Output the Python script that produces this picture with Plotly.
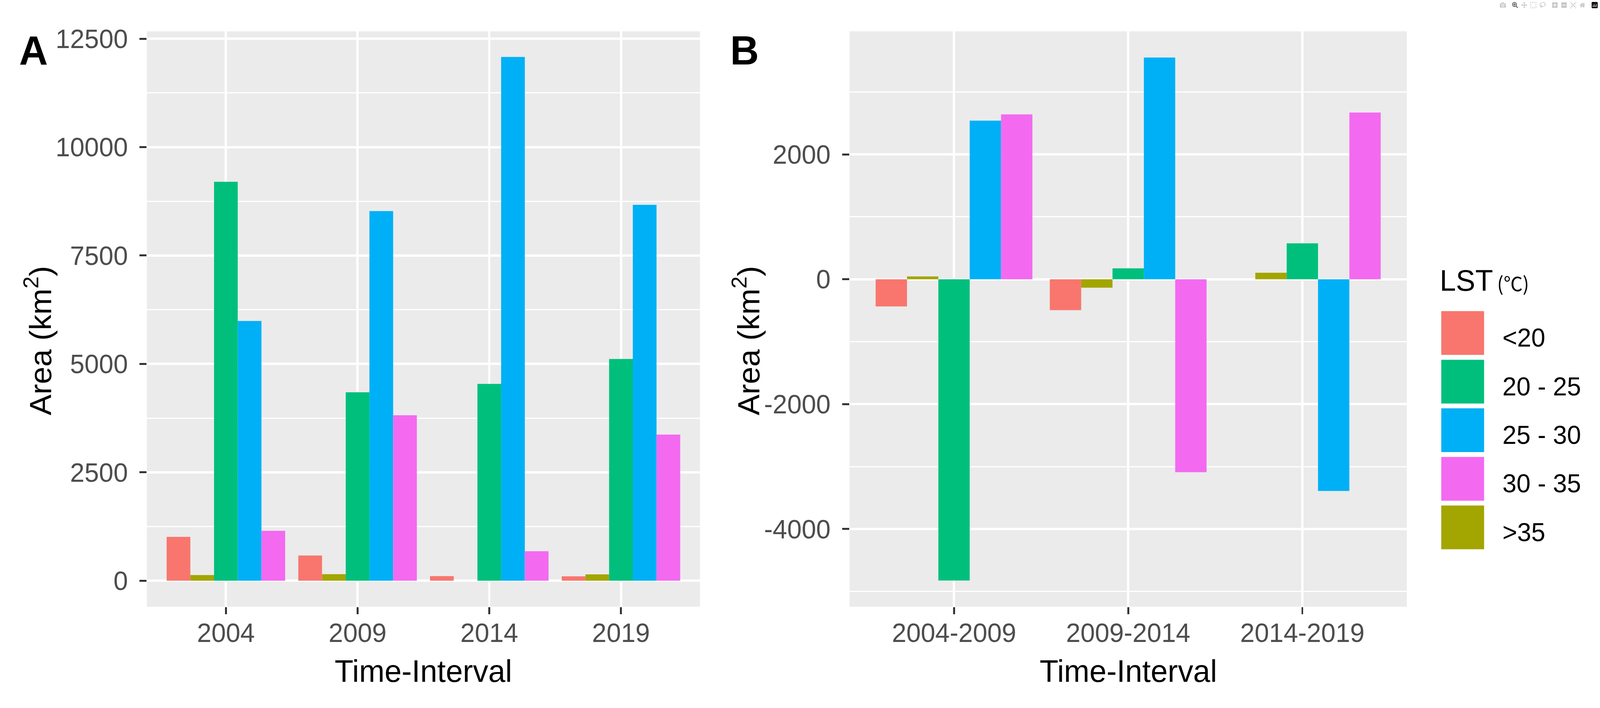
import plotly.graph_objects as go

# ---------------- data ----------------
years = ["2004", "2009", "2014", "2019"]
intervals = ["2004-2009", "2009-2014", "2014-2019"]

# class order used for bars inside each group (ggplot factor order)
bar_classes = ["<20", ">35", "20 - 25", "25 - 30", "30 - 35"]
bar_colors = ["#F8766D", "#A3A500", "#00BF7D", "#00B0F6", "#F36AF0"]
# order shown in the legend
legend_classes = ["<20", "20 - 25", "25 - 30", "30 - 35", ">35"]

# Panel A: area (km2) per year
area_lt20 = [1010, 580, 105, 100]
area_gt35 = [130, 150, 0, 145]
area_20_25 = [9200, 4345, 4540, 5115]
area_25_30 = [5990, 8525, 12080, 8670]
area_30_35 = [1150, 3815, 680, 3370]

# Panel B: change in area (km2) per interval
chg_lt20 = [-435, -495, 0]
chg_gt35 = [45, -135, 105]
chg_20_25 = [-4825, 175, 575]
chg_25_30 = [2540, 3550, -3390]
chg_30_35 = [2640, -3090, 2670]

area_series = [area_lt20, area_gt35, area_20_25, area_25_30, area_30_35]
chg_series = [chg_lt20, chg_gt35, chg_20_25, chg_25_30, chg_30_35]

# axis ticks
ticks_a = [0, 2500, 5000, 7500, 10000, 12500]
ticks_b = [-4000, -2000, 0, 2000]
ticks_b_ext = [-6000] + ticks_b + [4000]

# ---------------- layout helpers ----------------
W, H = 4183, 1812
FONT = "Liberation Sans, Arial, sans-serif"
TICK_GRAY = "#4D4D4D"


def px(x):
    return x / W


def py(y):
    return 1 - y / H


fig = go.Figure()

for name, col, ya, yb in zip(bar_classes, bar_colors, area_series, chg_series):
    fig.add_trace(go.Bar(x=years, y=ya, name=name, marker=dict(color=col, line=dict(width=0)),
                         xaxis="x", yaxis="y", showlegend=False))
    fig.add_trace(go.Bar(x=intervals, y=yb, name=name, marker=dict(color=col, line=dict(width=0)),
                         xaxis="x2", yaxis="y2", showlegend=False))

# custom legend drawn as large square markers on a hidden axis pair
leg_colors = [bar_colors[bar_classes.index(c)] for c in legend_classes]
fig.add_trace(go.Scatter(x=[124] * len(legend_classes), y=list(range(len(legend_classes))),
                         mode="markers", xaxis="x3", yaxis="y3", showlegend=False,
                         marker=dict(symbol="square", size=112, color=leg_colors, line=dict(width=0)),
                         hoverinfo="skip"))

common_x = dict(type="category", showgrid=True, gridcolor="white", gridwidth=6,
                ticks="outside", ticklen=18, tickwidth=5, tickcolor="#333333",
                tickfont=dict(size=68, color=TICK_GRAY, family=FONT),
                zeroline=False, showline=False, ticklabelstandoff=-10)
common_y = dict(showgrid=True, gridcolor="white", gridwidth=6,
                ticks="outside", ticklen=18, tickwidth=5, tickcolor="#333333",
                tickfont=dict(size=68, color=TICK_GRAY, family=FONT),
                zeroline=False, showline=False, ticklabelstandoff=17)

minor_a = [(a + b) / 2 for a, b in zip(ticks_a, ticks_a[1:])]
minor_b = [(a + b) / 2 for a, b in zip(ticks_b_ext, ticks_b_ext[1:])]

yA0, yA1 = py(1550), py(62)

fig.update_layout(
    width=W, height=H,
    margin=dict(l=0, r=0, t=0, b=0),
    paper_bgcolor="white", plot_bgcolor="rgba(0,0,0,0)",
    barmode="group", bargap=0.1, bargroupgap=0,
    font=dict(family=FONT),
    xaxis=dict(common_x, domain=[px(384), px(1830)], anchor="y", range=[-0.6, 3.6],
               categoryorder="array", categoryarray=years),
    yaxis=dict(common_y, domain=[yA0, yA1], anchor="x", range=[-600, 12670],
               tickvals=ticks_a, ticktext=[str(v) for v in ticks_a],
               minor=dict(tickvals=minor_a, showgrid=True, gridcolor="white", gridwidth=3, ticks="")),
    xaxis2=dict(common_x, domain=[px(2221), px(3678)], anchor="y2", range=[-0.6, 2.6],
                categoryorder="array", categoryarray=intervals),
    yaxis2=dict(common_y, domain=[yA0, yA1], anchor="x2", range=[-5244, 3969],
                tickvals=ticks_b, ticktext=[str(v) for v in ticks_b],
                minor=dict(tickvals=minor_b, showgrid=True, gridcolor="white", gridwidth=3, ticks="")),
    xaxis3=dict(domain=[px(3700), 1.0], anchor="y3", range=[0, W - 3700], visible=False, fixedrange=True),
    yaxis3=dict(domain=[py(1345 + 62.75), py(842 - 62.75)], anchor="x3", range=[4.5, -0.5],
                visible=False, fixedrange=True),
    shapes=[
        dict(type="rect", xref="x domain", yref="y domain", x0=0, x1=1, y0=0, y1=1,
             fillcolor="#EBEBEB", line=dict(width=0), layer="below"),
        dict(type="rect", xref="x2 domain", yref="y2 domain", x0=0, x1=1, y0=0, y1=1,
             fillcolor="#EBEBEB", line=dict(width=0), layer="below"),
    ],
)

ann = []
# panel tags
ann.append(dict(text="<b>A</b>", x=px(87), y=py(111), xref="paper", yref="paper", showarrow=False,
                xanchor="center", yanchor="middle", font=dict(size=104, color="black", family=FONT)))
ann.append(dict(text="<b>B</b>", x=px(1946), y=py(111), xref="paper", yref="paper", showarrow=False,
                xanchor="center", yanchor="middle", font=dict(size=104, color="black", family=FONT)))
# axis titles
for xc in (1107, 2950):
    ann.append(dict(text="Time-Interval", x=px(xc), y=py(1717), xref="paper", yref="paper",
                    showarrow=False, xanchor="center", yanchor="middle",
                    font=dict(size=80, color="black", family=FONT)))
for xc in (100, 1952):
    ann.append(dict(text="Area (km<sup>2</sup>)", x=px(xc), y=py(862), xref="paper", yref="paper",
                    showarrow=False, xanchor="center", yanchor="middle", textangle=-90,
                    font=dict(size=80, color="black", family=FONT)))
# legend title
ann.append(dict(text="LST", x=px(3762), y=py(706), xref="paper", yref="paper", showarrow=False,
                xanchor="left", yanchor="middle", font=dict(size=76, color="black", family=FONT)))
ann.append(dict(text="(℃)", x=px(3912), y=py(711), xref="paper", yref="paper", showarrow=False,
                xanchor="left", yanchor="middle",
                font=dict(size=50, color="black", family="Noto Sans CJK SC, DejaVu Sans")))
# legend labels
for i, c in enumerate(legend_classes):
    ann.append(dict(text=c, x=226, y=i, xref="x3", yref="y3", showarrow=False,
                    xanchor="left", yanchor="middle", yshift=-12,
                    font=dict(size=66, color="black", family=FONT)))

fig.update_layout(annotations=ann)

# fit the fixed-size figure exactly into whatever viewport the page is shown in
fit_script = """
var gd = document.getElementById('{plot_id}');
document.documentElement.style.margin = '0';
document.body.style.margin = '0';
document.documentElement.style.overflow = 'hidden';
document.body.style.overflow = 'hidden';
var holder = gd.parentElement;
holder.style.width = '100vw';
holder.style.height = '100vh';
holder.style.overflow = 'hidden';
var sx = window.innerWidth / %d, sy = window.innerHeight / %d;
gd.style.transformOrigin = '0 0';
gd.style.transform = 'scale(' + sx + ',' + sy + ')';
""" % (W, H)

fig.write_html("out.html", post_script=fit_script)
